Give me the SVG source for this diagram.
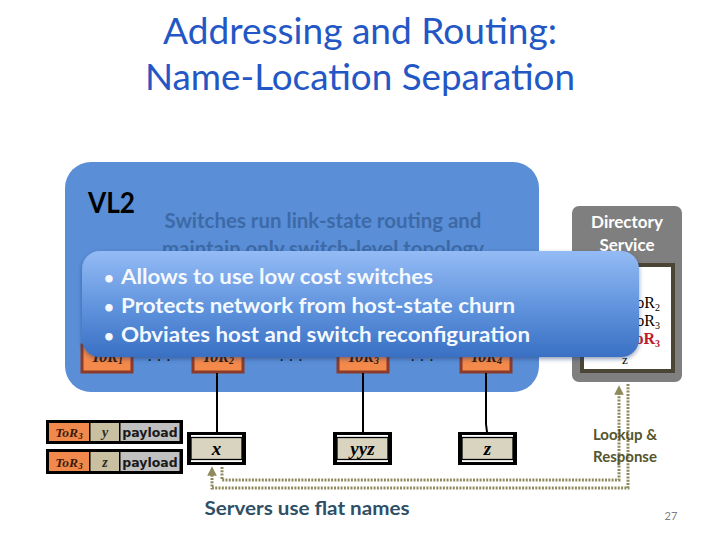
<svg xmlns="http://www.w3.org/2000/svg" width="720" height="540" viewBox="0 0 720 540">
<defs>
<linearGradient id="ov" x1="0" y1="0" x2="0" y2="1">
<stop offset="0" stop-color="#94bbf5"/>
<stop offset="0.55" stop-color="#5e92dc"/>
<stop offset="1" stop-color="#3a70c4"/>
</linearGradient>
<filter id="sh" x="-5%" y="-10%" width="110%" height="130%">
<feGaussianBlur in="SourceAlpha" stdDeviation="2"/>
<feOffset dy="2" result="b"/>
<feFlood flood-color="#1c3d70" flood-opacity="0.5"/>
<feComposite in2="b" operator="in"/>
<feMerge><feMergeNode/><feMergeNode in="SourceGraphic"/></feMerge>
</filter>
<marker id="ah" viewBox="0 0 10 10" refX="5" refY="5" markerWidth="3.2" markerHeight="3.2" orient="auto">
<path d="M0,0 L10,5 L0,10 Z" fill="#8f8a5c"/>
</marker>
</defs>
<style>
.cal{font-family:Lato,"Open Sans","Liberation Sans",sans-serif}
.ser{font-family:"Liberation Serif","DejaVu Serif",serif;font-weight:bold;font-style:italic}
.tor{fill:#f3894a;stroke:#8b3b2b;stroke-width:3}
.wire{stroke:#000;stroke-width:2;fill:none}
.dot{stroke:#8f8a5c;stroke-width:3;fill:none;stroke-dasharray:2 1.3}
.cell{stroke:none}
</style>

<g id="title" class="cal" fill="#2457c6" font-size="37" text-anchor="middle">
<text x="360" y="44" textLength="394" lengthAdjust="spacingAndGlyphs">Addressing and Routing:</text>
<text x="360" y="90" textLength="430" lengthAdjust="spacingAndGlyphs">Name-Location Separation</text>
</g>

<g id="vl2">
<rect x="65" y="162" width="474" height="230" rx="26" fill="#5a8ed6"/>
<text class="cal" x="88" y="213" font-size="29" font-weight="bold" fill="#000" textLength="47" lengthAdjust="spacingAndGlyphs">VL2</text>
<text class="cal" x="323" y="228" font-size="20.5" font-weight="bold" fill="#3d6aa7" text-anchor="middle" textLength="317" lengthAdjust="spacingAndGlyphs">Switches run link-state routing and</text>
<text class="cal" x="323" y="256" font-size="20.5" font-weight="bold" fill="#3d6aa7" text-anchor="middle" textLength="322" lengthAdjust="spacingAndGlyphs">maintain only switch-level topology</text>
</g>

<g id="tors">
<g id="tor1"><rect class="tor" x="82" y="345" width="50" height="27"/><text class="ser" x="107" y="362" font-size="16" text-anchor="middle" fill="#3a1a08">ToR<tspan font-size="10" dy="2">1</tspan></text></g>
<g id="tor2"><rect class="tor" x="193" y="345" width="50" height="27"/><text class="ser" x="218" y="362" font-size="16" text-anchor="middle" fill="#3a1a08">ToR<tspan font-size="10" dy="2">2</tspan></text></g>
<g id="tor3"><rect class="tor" x="338" y="345" width="50" height="27"/><text class="ser" x="363" y="362" font-size="16" text-anchor="middle" fill="#3a1a08">ToR<tspan font-size="10" dy="2">3</tspan></text></g>
<g id="tor4"><rect class="tor" x="461" y="345" width="50" height="27"/><text class="ser" x="486" y="362" font-size="16" text-anchor="middle" fill="#3a1a08">ToR<tspan font-size="10" dy="2">4</tspan></text></g>
<g font-family="Liberation Serif,serif" font-size="16" fill="#111" text-anchor="middle">
<text x="159" y="366">· · ·</text>
<text x="291" y="366">· · ·</text>
<text x="422" y="366">· · ·</text>
</g>
</g>

<g id="directory">
<rect x="572" y="206" width="110" height="176" rx="7" fill="#7f7f7f"/>
<text class="cal" x="627" y="228" font-size="17" font-weight="bold" fill="#fff" text-anchor="middle">Directory</text>
<text class="cal" x="627" y="251" font-size="17" font-weight="bold" fill="#fff" text-anchor="middle">Service</text>
<rect x="582" y="265" width="91" height="106" fill="#fff" stroke="#4a4535" stroke-width="4"/>
<g font-family="Liberation Serif,serif" font-size="16" text-anchor="end">
<text x="660" y="308" fill="#000">x → ToR<tspan font-size="10" dy="3">2</tspan></text>
<text x="660" y="326" fill="#000">y → ToR<tspan font-size="10" dy="3">3</tspan></text>
<text x="660" y="344" fill="#c0192a" font-weight="bold">z → ToR<tspan font-size="10" dy="3">3</tspan></text>
</g>
<text x="625" y="364" font-family="Liberation Serif,serif" font-size="13" fill="#000" text-anchor="middle">z</text>
</g>

<g id="overlay">
<rect x="82" y="251" width="557" height="106" rx="18" fill="url(#ov)" filter="url(#sh)"/>
<g class="cal" font-size="21.5" font-weight="bold" fill="#f4f9ff">
<text x="104" y="284" font-size="17">•</text>
<text x="121" y="284" textLength="312" lengthAdjust="spacingAndGlyphs">Allows to use low cost switches</text>
<text x="104" y="313" font-size="17">•</text>
<text x="121" y="313" textLength="394" lengthAdjust="spacingAndGlyphs">Protects network from host-state churn</text>
<text x="104" y="342" font-size="17">•</text>
<text x="121" y="342" textLength="409" lengthAdjust="spacingAndGlyphs">Obviates host and switch reconfiguration</text>
</g>
</g>

<g id="connectors">
<line class="wire" x1="217" y1="373" x2="217" y2="432"/>
<line class="wire" x1="363" y1="373" x2="363" y2="432"/>
<polyline class="wire" points="486,373 486,424 487,432"/>
<polyline class="dot" points="222,467 222,480 619,480 619,390" marker-end="url(#ah)"/>
<polyline class="dot" points="628,384 628,488 212,488 212,471" marker-end="url(#ah)"/>
</g>

<g id="server-x">
<rect x="187" y="432" width="59" height="33" fill="#000"/>
<rect x="191" y="435" width="51" height="27" fill="#fff"/>
<rect x="191" y="437.5" width="51" height="22" fill="#d9d4bf" stroke="#000" stroke-width="1.3"/>
<text class="ser" x="216.5" y="455" font-size="19" text-anchor="middle" fill="#000">x</text>
</g>
<g id="server-yyz">
<rect x="333" y="432" width="59" height="33" fill="#000"/>
<rect x="337" y="435" width="51" height="27" fill="#fff"/>
<rect x="337" y="437.5" width="51" height="22" fill="#d9d4bf" stroke="#000" stroke-width="1.3"/>
<text class="ser" x="362.5" y="455" font-size="19" text-anchor="middle" fill="#000">yyz</text>
</g>
<g id="server-z">
<rect x="458" y="432" width="59" height="33" fill="#000"/>
<rect x="462" y="435" width="51" height="27" fill="#fff"/>
<rect x="462" y="437.5" width="51" height="22" fill="#d9d4bf" stroke="#000" stroke-width="1.3"/>
<text class="ser" x="487.5" y="455" font-size="19" text-anchor="middle" fill="#000">z</text>
</g>

<g id="packet-y">
<rect x="46" y="420" width="137" height="24" fill="#000"/>
<rect class="cell" x="49" y="423" width="40" height="18" fill="#f0894b"/>
<rect class="cell" x="90.5" y="423" width="28.5" height="18" fill="#c8c0a0"/>
<rect class="cell" x="120.5" y="423" width="59" height="18" fill="#c0c0c0"/>
<text class="ser" x="69" y="437" font-size="13.5" text-anchor="middle" fill="#3a1a08">ToR<tspan font-size="9" dy="2">3</tspan></text>
<text class="ser" x="105" y="437" font-size="14" text-anchor="middle" fill="#2a2a20">y</text>
<text x="150" y="437" font-family="DejaVu Sans,Liberation Sans,sans-serif" font-size="12.5" font-weight="bold" text-anchor="middle" fill="#1a1a1a">payload</text>
</g>
<g id="packet-z">
<rect x="46" y="449" width="137" height="25" fill="#000"/>
<rect class="cell" x="49" y="452" width="40" height="19" fill="#f0894b"/>
<rect class="cell" x="90.5" y="452" width="28.5" height="19" fill="#c8c0a0"/>
<rect class="cell" x="120.5" y="452" width="59" height="19" fill="#c0c0c0"/>
<text class="ser" x="69" y="467" font-size="13.5" text-anchor="middle" fill="#3a1a08">ToR<tspan font-size="9" dy="2">3</tspan></text>
<text class="ser" x="105" y="467" font-size="14" text-anchor="middle" fill="#2a2a20">z</text>
<text x="150" y="467" font-family="DejaVu Sans,Liberation Sans,sans-serif" font-size="12.5" font-weight="bold" text-anchor="middle" fill="#1a1a1a">payload</text>
</g>

<g id="labels" class="cal" font-weight="bold">
<text x="625" y="440" font-size="15" fill="#55552c" text-anchor="middle">Lookup &amp;</text>
<text x="625" y="462" font-size="15" fill="#55552c" text-anchor="middle">Response</text>
<text x="307" y="515" font-size="19" fill="#2e4f66" text-anchor="middle" textLength="205" lengthAdjust="spacingAndGlyphs">Servers use flat names</text>
<text x="671" y="520" font-size="11" font-weight="normal" fill="#7f7f7f" text-anchor="middle">27</text>
</g>
</svg>
